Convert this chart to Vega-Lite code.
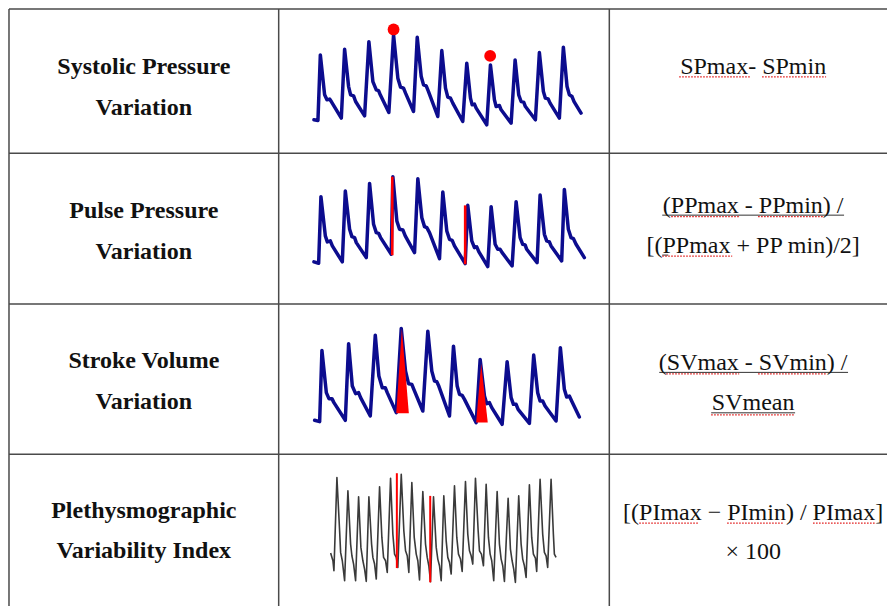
{
  "$schema": "https://vega.github.io/schema/vega-lite/v6.json",
  "width": 888,
  "height": 607,
  "autosize": {"type": "fit", "contains": "padding"},
  "padding": 0,
  "background": "white",
  "config": {"view": {"stroke": null}},
  "datasets": {
    "grid": [
      {"x": 9, "x2": 888, "y": 9, "y2": 9},
      {"x": 9, "x2": 888, "y": 153.5, "y2": 153.5},
      {"x": 9, "x2": 888, "y": 304.5, "y2": 304.5},
      {"x": 9, "x2": 888, "y": 455, "y2": 455},
      {"x": 9, "x2": 9, "y": 9, "y2": 607},
      {"x": 279, "x2": 279, "y": 9, "y2": 607},
      {"x": 610, "x2": 610, "y": 9, "y2": 607}
    ],
    "wave": [
      {"w":1,"x":314.3,"y":120.0},{"w":1,"x":318.3,"y":120.7},{"w":1,"x":320.7,"y":55.0},{"w":1,"x":325.0,"y":95.0},{"w":1,"x":327.3,"y":100.0},{"w":1,"x":330.0,"y":99.3},{"w":1,"x":331.7,"y":101.7},{"w":1,"x":341.7,"y":118.3},
      {"w":1,"x":345.0,"y":49.3},{"w":1,"x":349.0,"y":86.7},{"w":1,"x":351.0,"y":95.0},{"w":1,"x":354.0,"y":96.0},{"w":1,"x":356.0,"y":101.7},{"w":1,"x":365.0,"y":116.0},
      {"w":1,"x":369.3,"y":41.7},{"w":1,"x":373.3,"y":81.7},{"w":1,"x":376.7,"y":90.0},{"w":1,"x":379.0,"y":90.7},{"w":1,"x":380.7,"y":95.0},{"w":1,"x":389.3,"y":112.7},
      {"w":1,"x":394.0,"y":35.0},{"w":1,"x":398.3,"y":78.3},{"w":1,"x":401.0,"y":87.3},{"w":1,"x":404.0,"y":88.3},{"w":1,"x":406.0,"y":93.3},{"w":1,"x":414.0,"y":111.7},
      {"w":1,"x":417.7,"y":37.3},{"w":1,"x":421.7,"y":76.7},{"w":1,"x":424.0,"y":85.0},{"w":1,"x":426.7,"y":86.0},{"w":1,"x":429.0,"y":91.7},{"w":1,"x":438.3,"y":116.7},
      {"w":1,"x":442.3,"y":50.7},{"w":1,"x":446.0,"y":88.3},{"w":1,"x":448.3,"y":97.3},{"w":1,"x":451.0,"y":98.3},{"w":1,"x":453.3,"y":103.3},{"w":1,"x":463.3,"y":121.7},
      {"w":1,"x":467.3,"y":63.3},{"w":1,"x":471.0,"y":98.3},{"w":1,"x":472.7,"y":105.0},{"w":1,"x":475.0,"y":104.3},{"w":1,"x":476.7,"y":108.3},{"w":1,"x":487.3,"y":125.0},
      {"w":1,"x":491.0,"y":65.0},{"w":1,"x":495.0,"y":100.0},{"w":1,"x":496.7,"y":106.7},{"w":1,"x":500.0,"y":105.7},{"w":1,"x":501.7,"y":110.0},{"w":1,"x":511.7,"y":123.3},
      {"w":1,"x":515.7,"y":60.0},{"w":1,"x":519.3,"y":95.0},{"w":1,"x":521.7,"y":101.7},{"w":1,"x":524.3,"y":102.3},{"w":1,"x":526.0,"y":106.7},{"w":1,"x":536.0,"y":120.0},
      {"w":1,"x":540.0,"y":52.7},{"w":1,"x":544.0,"y":91.7},{"w":1,"x":546.0,"y":98.3},{"w":1,"x":548.7,"y":99.0},{"w":1,"x":550.7,"y":103.3},{"w":1,"x":560.0,"y":118.3},
      {"w":1,"x":564.0,"y":47.3},{"w":1,"x":567.7,"y":86.7},{"w":1,"x":570.0,"y":95.0},{"w":1,"x":572.7,"y":96.7},{"w":1,"x":574.7,"y":101.7},{"w":1,"x":581.7,"y":113.3},

      {"w":2,"x":314.3,"y":262.3},{"w":2,"x":319.0,"y":263.7},{"w":2,"x":321.3,"y":197.0},{"w":2,"x":325.7,"y":236.3},{"w":2,"x":327.7,"y":242.3},{"w":2,"x":330.7,"y":241.3},{"w":2,"x":332.7,"y":246.3},{"w":2,"x":342.7,"y":262.3},
      {"w":2,"x":345.7,"y":191.3},{"w":2,"x":350.0,"y":229.7},{"w":2,"x":352.3,"y":237.0},{"w":2,"x":355.0,"y":238.0},{"w":2,"x":356.7,"y":243.0},{"w":2,"x":366.7,"y":258.0},
      {"w":2,"x":370.0,"y":183.7},{"w":2,"x":374.0,"y":224.7},{"w":2,"x":376.7,"y":233.0},{"w":2,"x":379.0,"y":233.7},{"w":2,"x":381.0,"y":238.0},{"w":2,"x":391.7,"y":254.7},
      {"w":2,"x":393.3,"y":177.0},{"w":2,"x":397.3,"y":221.3},{"w":2,"x":400.0,"y":229.7},{"w":2,"x":403.3,"y":230.3},{"w":2,"x":405.7,"y":236.3},{"w":2,"x":415.0,"y":253.0},
      {"w":2,"x":418.3,"y":179.0},{"w":2,"x":422.3,"y":218.0},{"w":2,"x":425.0,"y":227.0},{"w":2,"x":427.3,"y":228.0},{"w":2,"x":430.0,"y":233.0},{"w":2,"x":440.0,"y":259.0},
      {"w":2,"x":443.3,"y":192.3},{"w":2,"x":447.3,"y":231.3},{"w":2,"x":450.0,"y":239.7},{"w":2,"x":452.7,"y":240.7},{"w":2,"x":455.0,"y":246.3},{"w":2,"x":465.7,"y":264.0},
      {"w":2,"x":468.3,"y":205.7},{"w":2,"x":472.3,"y":241.3},{"w":2,"x":475.0,"y":248.0},{"w":2,"x":477.3,"y":247.3},{"w":2,"x":479.3,"y":252.0},{"w":2,"x":488.3,"y":267.0},
      {"w":2,"x":491.7,"y":207.0},{"w":2,"x":495.7,"y":244.7},{"w":2,"x":498.3,"y":249.7},{"w":2,"x":500.7,"y":249.7},{"w":2,"x":502.7,"y":253.0},{"w":2,"x":512.7,"y":266.3},
      {"w":2,"x":516.7,"y":202.0},{"w":2,"x":520.7,"y":238.0},{"w":2,"x":523.3,"y":244.7},{"w":2,"x":525.7,"y":245.3},{"w":2,"x":527.3,"y":249.7},{"w":2,"x":537.7,"y":263.0},
      {"w":2,"x":540.7,"y":195.3},{"w":2,"x":545.0,"y":234.7},{"w":2,"x":547.3,"y":241.3},{"w":2,"x":550.0,"y":242.3},{"w":2,"x":551.7,"y":246.3},{"w":2,"x":562.3,"y":261.3},
      {"w":2,"x":565.0,"y":189.7},{"w":2,"x":569.0,"y":229.7},{"w":2,"x":571.7,"y":238.0},{"w":2,"x":574.0,"y":239.0},{"w":2,"x":576.7,"y":244.7},{"w":2,"x":585.0,"y":258.0},

      {"w":3,"x":315.0,"y":421.0},{"w":3,"x":320.0,"y":422.3},{"w":3,"x":322.3,"y":351.0},{"w":3,"x":326.7,"y":393.3},{"w":3,"x":329.3,"y":399.3},{"w":3,"x":332.3,"y":399.3},{"w":3,"x":334.3,"y":403.3},{"w":3,"x":345.7,"y":421.0},
      {"w":3,"x":349.0,"y":344.3},{"w":3,"x":352.7,"y":386.7},{"w":3,"x":356.0,"y":394.3},{"w":3,"x":359.0,"y":393.3},{"w":3,"x":361.0,"y":398.3},{"w":3,"x":370.7,"y":416.7},
      {"w":3,"x":375.7,"y":335.7},{"w":3,"x":379.3,"y":376.7},{"w":3,"x":382.7,"y":388.3},{"w":3,"x":385.7,"y":388.3},{"w":3,"x":387.7,"y":393.3},{"w":3,"x":396.7,"y":413.3},
      {"w":3,"x":401.7,"y":329.0},{"w":3,"x":406.0,"y":371.7},{"w":3,"x":409.0,"y":384.3},{"w":3,"x":412.3,"y":385.0},{"w":3,"x":414.3,"y":390.0},{"w":3,"x":423.3,"y":411.7},
      {"w":3,"x":428.3,"y":331.7},{"w":3,"x":432.3,"y":371.7},{"w":3,"x":435.0,"y":381.7},{"w":3,"x":437.3,"y":382.3},{"w":3,"x":439.3,"y":386.7},{"w":3,"x":450.0,"y":416.7},
      {"w":3,"x":454.0,"y":346.7},{"w":3,"x":457.7,"y":386.7},{"w":3,"x":460.0,"y":395.0},{"w":3,"x":462.7,"y":396.0},{"w":3,"x":465.0,"y":400.0},{"w":3,"x":476.7,"y":423.3},
      {"w":3,"x":480.7,"y":360.0},{"w":3,"x":485.0,"y":396.7},{"w":3,"x":487.3,"y":404.3},{"w":3,"x":490.0,"y":403.3},{"w":3,"x":492.3,"y":408.3},{"w":3,"x":502.7,"y":425.0},
      {"w":3,"x":507.7,"y":362.3},{"w":3,"x":511.7,"y":398.3},{"w":3,"x":514.0,"y":405.0},{"w":3,"x":516.7,"y":405.0},{"w":3,"x":518.7,"y":410.0},{"w":3,"x":530.0,"y":424.0},
      {"w":3,"x":534.3,"y":355.7},{"w":3,"x":538.3,"y":393.3},{"w":3,"x":540.7,"y":401.7},{"w":3,"x":543.3,"y":401.7},{"w":3,"x":545.7,"y":406.7},{"w":3,"x":556.7,"y":421.7},
      {"w":3,"x":561.0,"y":348.3},{"w":3,"x":565.0,"y":390.0},{"w":3,"x":567.3,"y":397.7},{"w":3,"x":570.0,"y":396.7},{"w":3,"x":572.3,"y":401.7},{"w":3,"x":580.0,"y":417.7},

      {"w":4,"x":331.0,"y":554.0},{"w":4,"x":333.3,"y":561.7},{"w":4,"x":334.3,"y":571.7},{"w":4,"x":337.3,"y":478.3},{"w":4,"x":340.0,"y":531.7},{"w":4,"x":341.0,"y":553.3},{"w":4,"x":342.7,"y":561.7},{"w":4,"x":345.0,"y":581.7},
      {"w":4,"x":348.3,"y":491.7},{"w":4,"x":351.0,"y":545.0},{"w":4,"x":352.3,"y":556.7},{"w":4,"x":354.0,"y":565.0},{"w":4,"x":356.0,"y":581.7},
      {"w":4,"x":359.0,"y":497.7},{"w":4,"x":361.3,"y":548.3},{"w":4,"x":363.3,"y":561.7},{"w":4,"x":365.0,"y":570.0},{"w":4,"x":366.7,"y":582.3},
      {"w":4,"x":369.3,"y":497.7},{"w":4,"x":372.0,"y":545.0},{"w":4,"x":373.3,"y":558.3},{"w":4,"x":375.0,"y":565.0},{"w":4,"x":376.7,"y":580.0},
      {"w":4,"x":380.0,"y":487.7},{"w":4,"x":382.3,"y":538.3},{"w":4,"x":384.0,"y":558.3},{"w":4,"x":386.0,"y":561.7},{"w":4,"x":387.7,"y":573.3},
      {"w":4,"x":391.0,"y":479.0},{"w":4,"x":393.3,"y":535.0},{"w":4,"x":395.0,"y":555.0},{"w":4,"x":396.7,"y":558.3},{"w":4,"x":398.3,"y":568.3},
      {"w":4,"x":401.7,"y":475.0},{"w":4,"x":404.3,"y":531.7},{"w":4,"x":406.0,"y":551.7},{"w":4,"x":407.7,"y":556.7},{"w":4,"x":409.3,"y":573.3},
      {"w":4,"x":412.3,"y":483.3},{"w":4,"x":414.7,"y":538.3},{"w":4,"x":416.7,"y":555.0},{"w":4,"x":418.3,"y":561.7},{"w":4,"x":420.0,"y":581.0},
      {"w":4,"x":423.3,"y":492.3},{"w":4,"x":426.0,"y":545.0},{"w":4,"x":427.7,"y":558.3},{"w":4,"x":429.3,"y":566.7},{"w":4,"x":431.0,"y":582.7},
      {"w":4,"x":434.0,"y":497.7},{"w":4,"x":436.7,"y":548.3},{"w":4,"x":438.3,"y":560.0},{"w":4,"x":440.0,"y":566.7},{"w":4,"x":441.7,"y":581.7},
      {"w":4,"x":444.3,"y":496.7},{"w":4,"x":446.7,"y":541.7},{"w":4,"x":448.3,"y":558.3},{"w":4,"x":450.0,"y":563.3},{"w":4,"x":451.7,"y":575.0},
      {"w":4,"x":455.0,"y":486.7},{"w":4,"x":457.3,"y":538.3},{"w":4,"x":459.0,"y":555.0},{"w":4,"x":461.0,"y":560.0},{"w":4,"x":462.7,"y":572.3},
      {"w":4,"x":466.0,"y":482.3},{"w":4,"x":468.3,"y":535.0},{"w":4,"x":470.0,"y":551.7},{"w":4,"x":471.7,"y":556.7},{"w":4,"x":473.3,"y":565.0},
      {"w":4,"x":476.0,"y":479.0},{"w":4,"x":478.7,"y":531.7},{"w":4,"x":480.0,"y":551.7},{"w":4,"x":482.0,"y":555.0},{"w":4,"x":484.0,"y":566.7},
      {"w":4,"x":486.7,"y":485.0},{"w":4,"x":489.0,"y":538.3},{"w":4,"x":490.7,"y":555.0},{"w":4,"x":492.3,"y":561.7},{"w":4,"x":494.3,"y":581.7},
      {"w":4,"x":497.7,"y":492.3},{"w":4,"x":500.0,"y":545.0},{"w":4,"x":501.7,"y":560.0},{"w":4,"x":503.3,"y":566.7},{"w":4,"x":505.0,"y":582.3},
      {"w":4,"x":508.7,"y":499.0},{"w":4,"x":511.0,"y":550.0},{"w":4,"x":512.7,"y":561.7},{"w":4,"x":514.3,"y":570.0},{"w":4,"x":516.0,"y":583.3},
      {"w":4,"x":519.3,"y":496.7},{"w":4,"x":521.7,"y":545.0},{"w":4,"x":523.3,"y":560.0},{"w":4,"x":525.0,"y":566.7},{"w":4,"x":526.7,"y":578.3},
      {"w":4,"x":530.0,"y":485.7},{"w":4,"x":532.3,"y":538.3},{"w":4,"x":534.0,"y":555.0},{"w":4,"x":536.0,"y":559.0},{"w":4,"x":537.3,"y":572.3},
      {"w":4,"x":540.7,"y":480.0},{"w":4,"x":543.3,"y":535.0},{"w":4,"x":545.0,"y":553.3},{"w":4,"x":546.7,"y":556.7},{"w":4,"x":548.3,"y":568.3},
      {"w":4,"x":551.7,"y":480.0},{"w":4,"x":554.0,"y":535.0},{"w":4,"x":555.0,"y":555.0},{"w":4,"x":556.7,"y":558.3}
    ],
    "redlines": [
      {"x": 392.7, "y": 177.0, "y2": 255.7, "w": 2.6},
      {"x": 465.7, "y": 205.7, "y2": 264.7, "w": 2.6},
      {"x": 397.3, "y": 474.0, "y2": 569.0, "w": 2},
      {"x": 430.7, "y": 496.7, "y2": 583.3, "w": 2}
    ],
    "dots": [
      {"x": 394.0, "y": 29.5},
      {"x": 490.7, "y": 56.0}
    ],
    "tri": [
      {"t": 1, "x": 396.7, "y": 414.0, "b": 414.0},
      {"t": 1, "x": 402.3, "y": 329.0, "b": 414.0},
      {"t": 1, "x": 409.3, "y": 414.0, "b": 414.0},
      {"t": 2, "x": 476.7, "y": 423.3, "b": 423.3},
      {"t": 2, "x": 481.7, "y": 364.3, "b": 423.3},
      {"t": 2, "x": 488.3, "y": 423.3, "b": 423.3}
    ],
    "labels": [
      {"x": 144, "y": 74, "text": "Systolic Pressure"},
      {"x": 144, "y": 115, "text": "Variation"},
      {"x": 144, "y": 218, "text": "Pulse Pressure"},
      {"x": 144, "y": 259, "text": "Variation"},
      {"x": 144, "y": 369, "text": "Stroke Volume"},
      {"x": 144, "y": 410, "text": "Variation"},
      {"x": 144, "y": 519, "text": "Plethysmographic"},
      {"x": 144, "y": 559, "text": "Variability Index"}
    ],
    "formulas": [
      {"x": 754, "y": 74, "text": "SPmax- SPmin"},
      {"x": 754, "y": 213, "text": "(PPmax - PPmin) /"},
      {"x": 754, "y": 253, "text": "[(PPmax + PP min)/2]"},
      {"x": 754, "y": 371, "text": "(SVmax - SVmin) /"},
      {"x": 754, "y": 411, "text": "SVmean"},
      {"x": 754, "y": 521, "text": "[(PImax − PImin) / PImax]"},
      {"x": 754, "y": 560, "text": "× 100"}
    ],
    "underlines": [
      {"x": 663, "x2": 845, "y": 215.5},
      {"x": 660, "x2": 849, "y": 373},
      {"x": 712, "x2": 796, "y": 413.5},
      {"x": 663, "x2": 669, "y": 255.5}
    ],
    "squiggles": [
      {"x": 680, "x2": 752, "y": 77},
      {"x": 763, "x2": 827, "y": 77},
      {"x": 672, "x2": 740, "y": 217},
      {"x": 759, "x2": 824, "y": 217},
      {"x": 663, "x2": 733, "y": 256.5},
      {"x": 667, "x2": 740, "y": 374.5},
      {"x": 759, "x2": 828, "y": 374.5},
      {"x": 712, "x2": 796, "y": 415.5},
      {"x": 640, "x2": 700, "y": 524},
      {"x": 728, "x2": 785, "y": 524},
      {"x": 814, "x2": 876, "y": 524}
    ]
  },
  "layer": [
    {
      "data": {"name": "grid"},
      "mark": {"type": "rule", "color": "#4a4a4a", "strokeWidth": 1.5},
      "encoding": {
        "x": {"field": "x", "type": "quantitative", "scale": {"domain": [0, 888], "nice": false, "zero": false}, "axis": null},
        "x2": {"field": "x2"},
        "y": {"field": "y", "type": "quantitative", "scale": {"domain": [0, 607], "nice": false, "zero": false, "reverse": true}, "axis": null},
        "y2": {"field": "y2"}
      }
    },
    {
      "data": {"name": "wave"},
      "transform": [{"filter": "datum.w <= 3"}],
      "mark": {"type": "line", "color": "#0c0c8e", "strokeWidth": 3.5, "strokeJoin": "round", "strokeCap": "round"},
      "encoding": {
        "x": {"field": "x", "type": "quantitative"},
        "y": {"field": "y", "type": "quantitative"},
        "detail": {"field": "w", "type": "nominal"}
      }
    },
    {
      "data": {"name": "wave"},
      "transform": [{"filter": "datum.w == 4"}],
      "mark": {"type": "line", "color": "#3a3a3a", "strokeWidth": 1.6, "strokeJoin": "round"},
      "encoding": {
        "x": {"field": "x", "type": "quantitative"},
        "y": {"field": "y", "type": "quantitative"}
      }
    },
    {
      "data": {"name": "tri"},
      "mark": {"type": "area", "color": "#ff0000", "opacity": 1},
      "encoding": {
        "x": {"field": "x", "type": "quantitative"},
        "y": {"field": "y", "type": "quantitative"},
        "y2": {"field": "b"},
        "detail": {"field": "t", "type": "nominal"}
      }
    },
    {
      "data": {"name": "redlines"},
      "mark": {"type": "rule", "color": "#ff0000"},
      "encoding": {
        "x": {"field": "x", "type": "quantitative"},
        "y": {"field": "y", "type": "quantitative"},
        "y2": {"field": "y2"},
        "strokeWidth": {"field": "w", "type": "quantitative", "scale": null}
      }
    },
    {
      "data": {"name": "dots"},
      "mark": {"type": "point", "filled": true, "color": "#ff0000", "opacity": 1, "size": 140},
      "encoding": {
        "x": {"field": "x", "type": "quantitative"},
        "y": {"field": "y", "type": "quantitative"}
      }
    },
    {
      "data": {"name": "underlines"},
      "mark": {"type": "rule", "color": "#333333", "strokeWidth": 1},
      "encoding": {
        "x": {"field": "x", "type": "quantitative"},
        "x2": {"field": "x2"},
        "y": {"field": "y", "type": "quantitative"}
      }
    },
    {
      "data": {"name": "squiggles"},
      "mark": {"type": "rule", "color": "#e01010", "strokeWidth": 1.2, "strokeDash": [1.5, 1.5]},
      "encoding": {
        "x": {"field": "x", "type": "quantitative"},
        "x2": {"field": "x2"},
        "y": {"field": "y", "type": "quantitative"}
      }
    },
    {
      "data": {"name": "labels"},
      "mark": {"type": "text", "font": "Times New Roman, Liberation Serif, serif", "fontSize": 24, "fontWeight": "bold", "color": "#111111", "align": "center", "baseline": "alphabetic"},
      "encoding": {
        "x": {"field": "x", "type": "quantitative"},
        "y": {"field": "y", "type": "quantitative"},
        "text": {"field": "text", "type": "nominal"}
      }
    },
    {
      "data": {"name": "formulas"},
      "mark": {"type": "text", "font": "Times New Roman, Liberation Serif, serif", "fontSize": 24, "fontWeight": "normal", "color": "#111111", "align": "center", "baseline": "alphabetic"},
      "encoding": {
        "x": {"field": "x", "type": "quantitative"},
        "y": {"field": "y", "type": "quantitative"},
        "text": {"field": "text", "type": "nominal"}
      }
    }
  ]
}
